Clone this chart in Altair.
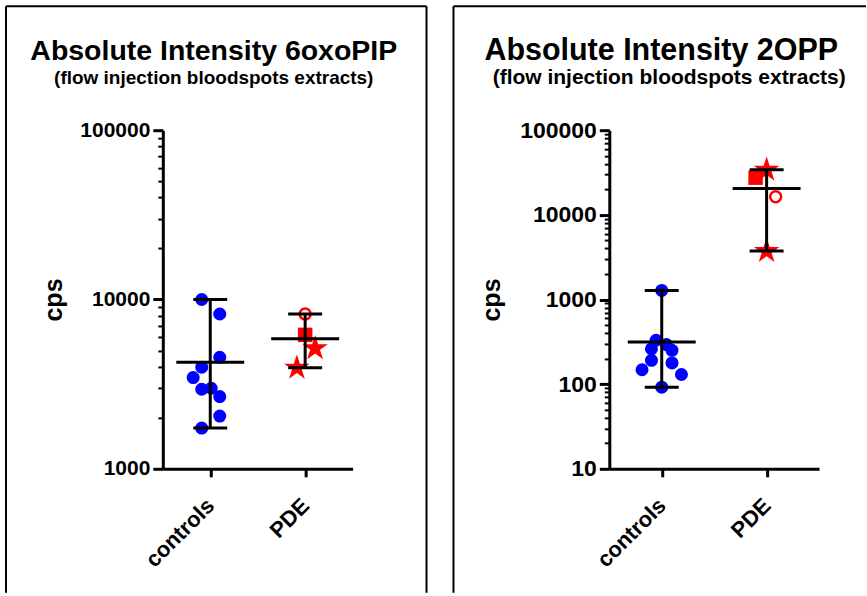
import altair as alt
import pandas as pd

FONT = "Liberation Sans"
BLUE = "#0000FF"
RED = "#FF0000"
BLACK = "#000000"

# ---- data -------------------------------------------------------------
groups = ["controls", "PDE"]
group_centres = [0.5, 1.5]
pde_markers = ["open circle", "square", "star", "star"]

# 6oxoPIP (cps)
oxopip_controls = [10000, 8210, 4560, 3980, 3460, 2950, 2990, 2670, 2050, 1740]
oxopip_controls_spread = [-0.09, 0.10, 0.10, -0.09, -0.18, -0.09, 0.01, 0.10, 0.10, -0.09]
oxopip_pde = [8210, 6180, 5150, 3950]
oxopip_pde_spread = [0.0, 0.0, 0.105, -0.087]

# 2OPP (cps)
opp_controls = [1279, 330, 293, 261, 251, 191, 178, 148, 130, 92]
opp_controls_spread = [0.0, -0.054, 0.045, -0.098, 0.098, -0.098, 0.098, -0.188, 0.188, 0.0]
opp_pde = [16400, 27500, 34000, 3730]
opp_pde_spread = [0.086, -0.105, 0.0, 0.0]

titles = ["Absolute Intensity 6oxoPIP", "Absolute Intensity 2OPP"]
subtitle = "(flow injection bloodspots extracts)"
y_title = "cps"

# five-pointed star on the unit square used for the star markers
STAR = ("M0,-1L0.2245,-0.309L0.951,-0.309L0.363,0.118L0.588,0.809L0,0.382"
        "L-0.588,0.809L-0.363,0.118L-0.951,-0.309L-0.2245,-0.309Z")


def build_table(controls, c_spread, pde, p_spread):
    rows = []
    for v, s in zip(controls, c_spread):
        rows.append({"group": groups[0], "pos": group_centres[0],
                     "xpos": group_centres[0] + s, "value": v, "marker": "dot"})
    for v, s, m in zip(pde, p_spread, pde_markers):
        rows.append({"group": groups[1], "pos": group_centres[1],
                     "xpos": group_centres[1] + s, "value": v, "marker": m})
    return pd.DataFrame(rows)


def log_ticks(lo_exp, hi_exp):
    vals = []
    for e in range(lo_exp, hi_exp):
        for m in range(1, 10):
            vals.append(m * 10 ** e)
    vals.append(10 ** hi_exp)
    return vals


def panel(table, lo_exp, hi_exp, width, height, title, title_size, sub_size,
          label_size, title_x, sub_x, cps_x, frame_left, frame_right, right_edge):
    decades = [10 ** e for e in range(lo_exp, hi_exp + 1)]
    dec_list = "[" + ",".join(str(d) for d in decades) + "]"
    is_major = f"indexof({dec_list}, datum.value) >= 0"

    y_axis = alt.Axis(
        values=log_ticks(lo_exp, hi_exp),
        labelExpr=f"{is_major} ? format(datum.value, 'd') : ''",
        labelOverlap=False, labelFlush=False, labelBound=False,
        labelFont=FONT, labelFontWeight="bold", labelFontSize=label_size,
        labelColor=BLACK, labelPadding=3,
        tickSize={"condition": {"test": is_major, "value": 10}, "value": 5},
        tickWidth={"condition": {"test": is_major, "value": 3}, "value": 2},
        tickColor=BLACK, domainColor=BLACK, domainWidth=3, grid=False,
        title=y_title, titleFont=FONT, titleFontWeight="bold", titleFontSize=25,
        titleColor=BLACK, titleX=cps_x, titleY=height / 2,
    )
    x_axis = alt.Axis(
        values=group_centres,
        labelExpr=f"datum.value < 1 ? '{groups[0]}' : '{groups[1]}'",
        labelAngle=-45, labelAlign="right", labelBaseline="middle",
        labelFont=FONT, labelFontWeight="bold", labelFontSize=22,
        labelColor=BLACK, labelPadding=25, labelOverlap=False,
        labelFlush=False, labelBound=False,
        tickSize=8, tickWidth=3, tickColor=BLACK,
        domainColor=BLACK, domainWidth=3, grid=False, title=None,
    )
    x_scale = alt.Scale(domain=[0, 2], nice=False, zero=False)
    y_scale = alt.Scale(type="log", domain=[10 ** lo_exp, 10 ** hi_exp], nice=False)

    one = pd.DataFrame({"k": [0]})
    top = -124
    bottom = 463

    deco = [
        alt.Chart(one).mark_rule(color=BLACK, strokeWidth=2).encode(
            x=alt.value(frame_left), x2=alt.value(frame_right), y=alt.value(top)),
        alt.Chart(one).mark_rule(color=BLACK, strokeWidth=2).encode(
            x=alt.value(frame_left), y=alt.value(top), y2=alt.value(bottom)),
    ]
    if right_edge:
        deco.append(alt.Chart(one).mark_rule(color=BLACK, strokeWidth=2).encode(
            x=alt.value(frame_right), y=alt.value(top), y2=alt.value(bottom)))
    deco.append(alt.Chart(one).mark_text(
        text=title, font=FONT, fontWeight="bold", fontSize=title_size,
        align="center", baseline="alphabetic", color=BLACK).encode(
            x=alt.value(title_x), y=alt.value(-70)))
    deco.append(alt.Chart(one).mark_text(
        text=subtitle, font=FONT, fontWeight="bold", fontSize=sub_size,
        align="center", baseline="alphabetic", color=BLACK).encode(
            x=alt.value(sub_x), y=alt.value(-46)))

    base = alt.Chart(table)
    X = alt.X("xpos:Q", scale=x_scale, axis=x_axis)
    Y = alt.Y("value:Q", scale=y_scale, axis=y_axis)

    dots = base.transform_filter("datum.marker == 'dot'").mark_circle(
        size=170, color=BLUE, opacity=1).encode(x=X, y=Y)
    rings = base.transform_filter("datum.marker == 'open circle'").mark_point(
        shape="circle", size=120, filled=False, color=RED, strokeWidth=2.5,
        opacity=1).encode(x=X, y=Y)
    squares = base.transform_filter("datum.marker == 'square'").mark_square(
        size=210, color=RED, opacity=1).encode(x=X, y=Y)
    stars = base.transform_filter("datum.marker == 'star'").mark_point(
        shape=STAR, size=720, filled=True, color=RED, opacity=1).encode(x=X, y=Y)

    summary = base.transform_aggregate(
        mean_v="mean(value)", lo="min(value)", hi="max(value)", groupby=["pos"])
    XS = alt.X("pos:Q", scale=x_scale, axis=x_axis)
    range_bar = summary.mark_rule(color=BLACK, strokeWidth=3).encode(
        x=XS, y=alt.Y("lo:Q", scale=y_scale, axis=y_axis), y2="hi:Q")
    mean_line = summary.mark_tick(orient="horizontal", size=68, thickness=3,
                                  color=BLACK, opacity=1).encode(
        x=XS, y=alt.Y("mean_v:Q", scale=y_scale, axis=y_axis))
    cap_lo = summary.mark_tick(orient="horizontal", size=34, thickness=3,
                               color=BLACK, opacity=1).encode(
        x=XS, y=alt.Y("lo:Q", scale=y_scale, axis=y_axis))
    cap_hi = summary.mark_tick(orient="horizontal", size=34, thickness=3,
                               color=BLACK, opacity=1).encode(
        x=XS, y=alt.Y("hi:Q", scale=y_scale, axis=y_axis))

    return alt.layer(dots, rings, squares, stars, range_bar, mean_line,
                     cap_lo, cap_hi, *deco).properties(width=width, height=height)


left = panel(build_table(oxopip_controls, oxopip_controls_spread, oxopip_pde, oxopip_pde_spread),
             3, 5, 190, 339, titles[0], 28.5, 19, 21, 51, 51, -96, -157, 264, True)
right = panel(build_table(opp_controls, opp_controls_spread, opp_pde, opp_pde_spread),
              1, 5, 210, 339, titles[1], 30.5, 21, 23, 52, 60, -105, -156, 257, False)

chart = alt.hconcat(left, right, spacing=25).properties(
    padding={"left": 5, "top": 5, "right": 0, "bottom": 0},
    background="white",
).configure_view(stroke=None)

chart.save("out.html", embed_options={"renderer": "svg", "actions": False})
